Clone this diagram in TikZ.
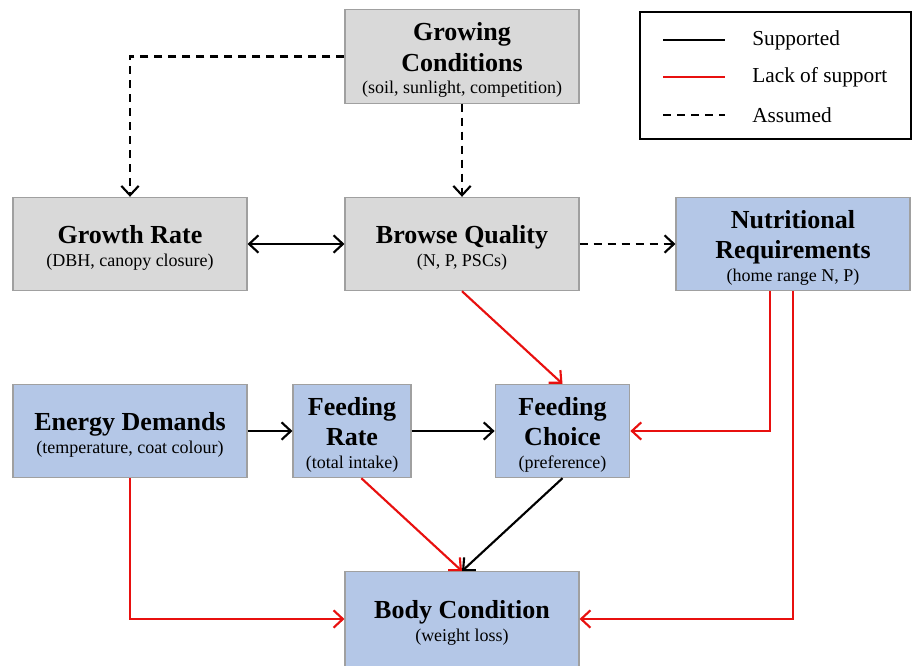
\documentclass[tikz,border=0pt]{standalone}
\usepackage{fontspec}
\setmainfont{Liberation Serif}
\usetikzlibrary{arrows.meta}
\definecolor{boxgray}{HTML}{D9D9D9}
\definecolor{boxblue}{HTML}{B4C7E7}
\definecolor{edgegray}{HTML}{A0A0A0}
\definecolor{lackred}{HTML}{E8100F}
\tikzset{
  barb/.tip={Straight Barb[length=7pt,width=13pt,line width=1.6pt]},
  factor/.style={draw=edgegray, line width=0.8pt, align=center, inner sep=2pt,
    minimum width=175.5pt, minimum height=70pt,
    font=\fontsize{19.5}{23}\selectfont\bfseries},
  graybox/.style={factor, fill=boxgray},
  bluebox/.style={factor, fill=boxblue},
  link/.style={line width=1.6pt, -barb},
  supported/.style={link, black},
  nosupport/.style={link, lackred},
  assumed/.style={link, black, dash pattern=on 6pt off 4.5pt},
  legtext/.style={anchor=west, font=\fontsize{16}{18}\selectfont, inner sep=0pt},
}
\newcommand{\hd}{\rule{0pt}{19pt}}
\newcommand{\sub}[1]{{\fontsize{13.5}{15}\selectfont\mdseries #1}}
\begin{document}
\begin{tikzpicture}[x=0.75pt, y=-0.75pt]
\useasboundingbox (0,0) rectangle (915,665);
% factors
\node[graybox] (grow) at (462,56.5) {\hd Growing\\Conditions\\[-6pt]\sub{(soil, sunlight, competition)}};
\node[graybox] (growth) at (130,244) {\hd Growth Rate\\[-6pt]\sub{(DBH, canopy closure)}};
\node[graybox] (browse) at (462,244) {\hd Browse Quality\\[-6pt]\sub{(N, P, PSCs)}};
\node[bluebox] (nutri) at (793,244) {\hd Nutritional\\Requirements\\[-6pt]\sub{(home range N, P)}};
\node[bluebox] (energy) at (130,431) {\hd Energy Demands\\[-6pt]\sub{(temperature, coat colour)}};
\node[bluebox, minimum width=88.5pt] (frate) at (352,431) {\hd Feeding\\Rate\\[-6pt]\sub{(total intake)}};
\node[bluebox, minimum width=101pt] (fchoice) at (562.5,431) {\hd Feeding\\Choice\\[-6pt]\sub{(preference)}};
\node[bluebox, minimum height=71pt] (body) at (462,619) {\hd Body Condition\\[-6pt]\sub{(weight loss)}};

% links
\draw[assumed] (grow) -| (growth);
\draw[assumed] (grow) -- (browse);
\draw[supported, barb-barb] (growth) -- (browse);
\draw[assumed] (browse) -- (nutri);
\draw[nosupport] (browse.south) -- (fchoice.north);
\draw[nosupport] ([xshift=-17pt]nutri.south) |- (fchoice);
\draw[nosupport] (nutri) |- (body);
\draw[supported] (energy) -- (frate);
\draw[supported] (frate) -- (fchoice);
\draw[nosupport] ([xshift=7pt]frate.south) -- (body.north);
\draw[supported] (fchoice.south) -- (body.north);
\draw[nosupport] (energy) |- (body);

% legend
\draw[line width=1pt] (640,12) rectangle (911,139);
\coordinate (s1) at (663,40);  \coordinate (e1) at (725,40);
\coordinate (s2) at (663,77);  \coordinate (e2) at (725,77);
\coordinate (s3) at (663,115); \coordinate (e3) at (725,115);
\draw[line width=1.6pt, black] (s1) -- (e1);
\draw[line width=1.6pt, lackred] (s2) -- (e2);
\draw[line width=1.6pt, black, dash pattern=on 6pt off 4.5pt] (s3) -- (e3);
\node[legtext] (l1) at (752,40) {Supported};
\node[legtext] (l2) at (752,77) {Lack of support};
\node[legtext] (l3) at (752,115) {Assumed};
\end{tikzpicture}
\end{document}
